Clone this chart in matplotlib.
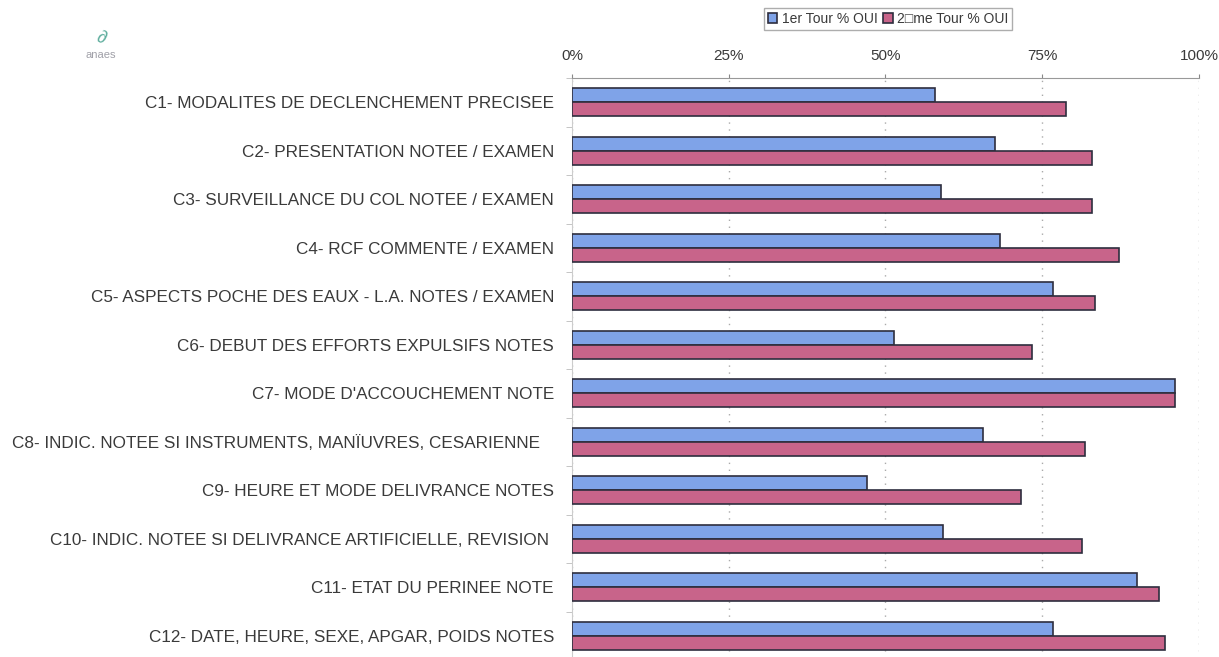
import numpy as np
import matplotlib.pyplot as plt
from matplotlib.ticker import FixedLocator, PercentFormatter

plt.rcParams['font.family'] = ['Liberation Sans', 'DejaVu Sans']

# criteria (top to bottom) and % OUI for each round
labels = [
    "C1- MODALITES DE DECLENCHEMENT PRECISEE",
    "C2- PRESENTATION NOTEE / EXAMEN",
    "C3- SURVEILLANCE DU COL NOTEE / EXAMEN",
    "C4- RCF COMMENTE / EXAMEN",
    "C5- ASPECTS POCHE DES EAUX - L.A. NOTES / EXAMEN",
    "C6- DEBUT DES EFFORTS EXPULSIFS NOTES",
    "C7- MODE D'ACCOUCHEMENT NOTE",
    "C8- INDIC. NOTEE SI INSTRUMENTS, MANÏUVRES, CESARIENNE   ",
    "C9- HEURE ET MODE DELIVRANCE NOTES",
    "C10- INDIC. NOTEE SI DELIVRANCE ARTIFICIELLE, REVISION ",
    "C11- ETAT DU PERINEE NOTE",
    "C12- DATE, HEURE, SEXE, APGAR, POIDS NOTES",
]
tour1 = [57.9, 67.4, 58.8, 68.3, 76.7, 51.4, 96.2, 65.5, 47.0, 59.2, 90.1, 76.7]
tour2 = [78.8, 83.0, 83.0, 87.2, 83.4, 73.4, 96.2, 81.8, 71.6, 81.4, 93.7, 94.5]
series_names = ["1er Tour % OUI", "2\u25a1me Tour % OUI"]

blue = '#7fa3e8'
pink = '#c8648a'
edge = '#2e2e3e'
txt = '#3a3a3a'

W, H = 1219, 657
fig = plt.figure(figsize=(W / 100, H / 100), dpi=100)
ax = fig.add_axes([572 / W, 1 - 660 / H, 627 / W, 582 / H])

y = np.arange(len(labels))
h = 0.29
b1 = ax.barh(y - h / 2, tour1, height=h, color=blue, edgecolor=edge, linewidth=1.2,
             label=series_names[0], zorder=3)
b2 = ax.barh(y + h / 2, tour2, height=h, color=pink, edgecolor=edge, linewidth=1.2,
             label=series_names[1], zorder=3)

ax.set_xlim(0, 100)
ax.set_ylim(len(labels) - 0.5, -0.5)

# percent axis on top
ax.xaxis.tick_top()
ax.xaxis.set_major_locator(FixedLocator([0, 25, 50, 75, 100]))
ax.xaxis.set_major_formatter(PercentFormatter(decimals=0))
ax.tick_params(axis='x', colors='#888888', labelcolor=txt, labelsize=11, length=3, pad=8)
ax.grid(axis='x', linestyle=(0, (1, 4)), color='#aaaaaa', linewidth=1, zorder=0)

ax.set_yticks(y)
ax.set_yticklabels(labels)
ax.tick_params(axis='y', length=0, labelsize=12.3, labelcolor=txt, pad=13)
ax.yaxis.set_minor_locator(FixedLocator(np.arange(-0.5, len(labels), 1)))
ax.tick_params(axis='y', which='minor', length=4, color='#bbbbbb')

for side in ['right', 'bottom']:
    ax.spines[side].set_visible(False)
ax.spines['top'].set_color('#999999')
ax.spines['left'].set_color('#cccccc')

fig.legend(handles=[b1, b2], loc='center', bbox_to_anchor=(888 / W, 1 - 19 / H),
           ncol=2, frameon=True, fancybox=False, edgecolor='#999999', fontsize=10,
           handlelength=0.7, handleheight=0.7, handletextpad=0.3, columnspacing=0.4,
           borderpad=0.3, labelcolor=txt)

# small logo top-left
fig.text(101 / W, 1 - 38 / H, "\u2202", color='#5fae9e', fontsize=13, ha='center', va='center',
         rotation=-20)
fig.text(101 / W, 1 - 55 / H, "anaes", color='#a0a0a8', fontsize=8, ha='center', va='center')

fig.savefig('out.png', dpi=100)
